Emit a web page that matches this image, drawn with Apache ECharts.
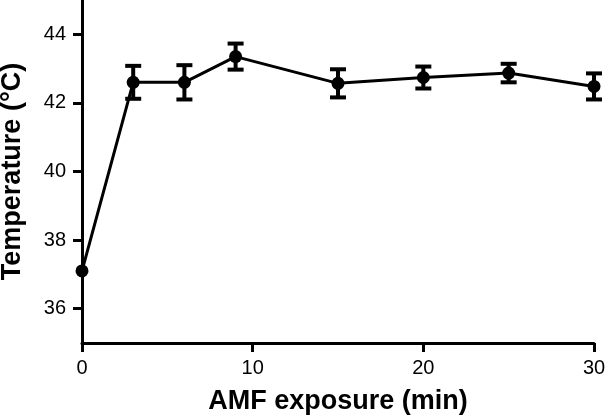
<!DOCTYPE html>
<html>
<head>
<meta charset="utf-8">
<script src="https://cdn.jsdelivr.net/npm/echarts@6/dist/echarts.min.js"></script>
<style>
html,body{margin:0;padding:0;background:#fff;}
#chart{width:607px;height:417px;}
</style>
</head>
<body>
<div id="chart"></div>
<script>
// Data
var timeMin = [0, 3, 6, 9, 15, 20, 25, 30];
var tempMean = [37.1, 42.6, 42.6, 43.35, 42.57, 42.74, 42.87, 42.48];
var tempErr = [0, 0.48, 0.5, 0.38, 0.41, 0.32, 0.27, 0.38];
var yTickValues = [36, 38, 40, 42, 44];
var xTickValues = [0, 10, 20, 30];

var lineData = timeMin.map(function (t, i) { return [t, tempMean[i]]; });
var errData = timeMin.map(function (t, i) { return [t, tempMean[i] - tempErr[i], tempMean[i] + tempErr[i]]; });

var chart = echarts.init(document.getElementById('chart'), null, {renderer: 'canvas'});
var font = 'Liberation Sans, Arial, Helvetica, sans-serif';
chart.setOption({
  animation: false,
  backgroundColor: '#fff',
  grid: {left: 82, right: 13, top: 0, bottom: 74, containLabel: false, outerBoundsMode: 'none'},
  xAxis: {
    type: 'value', min: 0, max: 30, interval: 10,
    name: 'AMF exposure (min)', nameLocation: 'middle', nameGap: 45,
    nameTextStyle: {fontFamily: font, fontWeight: 'bold', fontSize: 27, color: '#000'},
    axisLine: {show: true, onZero: false, lineStyle: {color: '#000', width: 3}},
    axisTick: {show: true, length: 9, lineStyle: {color: '#000', width: 3}},
    axisLabel: {fontFamily: font, fontSize: 20, color: '#000', margin: 15},
    splitLine: {show: false}
  },
  yAxis: {
    type: 'value', min: 35, max: 45,
    name: 'Temperature (°C)', nameLocation: 'middle', nameGap: 56,
    nameTextStyle: {fontFamily: font, fontWeight: 'bold', fontSize: 27, color: '#000'},
    axisLine: {show: true, onZero: false, lineStyle: {color: '#000', width: 3}},
    axisTick: {show: true, length: 9, customValues: yTickValues, lineStyle: {color: '#000', width: 3}},
    axisLabel: {fontFamily: font, fontSize: 20, color: '#000', margin: 16, customValues: yTickValues},
    splitLine: {show: false}
  },
  series: [
    {
      type: 'line',
      data: lineData,
      symbol: 'circle', symbolSize: 13,
      lineStyle: {color: '#000', width: 3},
      itemStyle: {color: '#000'},
      z: 3
    },
    {
      type: 'custom',
      data: errData,
      z: 4,
      renderItem: function (params, api) {
        var x = api.value(0);
        var lo = api.coord([x, api.value(1)]);
        var hi = api.coord([x, api.value(2)]);
        if (Math.abs(hi[1] - lo[1]) < 1) return null;
        var hw = 8;
        var st = {stroke: '#000', lineWidth: 4};
        return {
          type: 'group',
          children: [
            {type: 'line', shape: {x1: lo[0], y1: lo[1], x2: hi[0], y2: hi[1]}, style: st},
            {type: 'line', shape: {x1: lo[0] - hw, y1: lo[1], x2: lo[0] + hw, y2: lo[1]}, style: st},
            {type: 'line', shape: {x1: hi[0] - hw, y1: hi[1], x2: hi[0] + hw, y2: hi[1]}, style: st}
          ]
        };
      }
    }
  ]
});
</script>
</body>
</html>
